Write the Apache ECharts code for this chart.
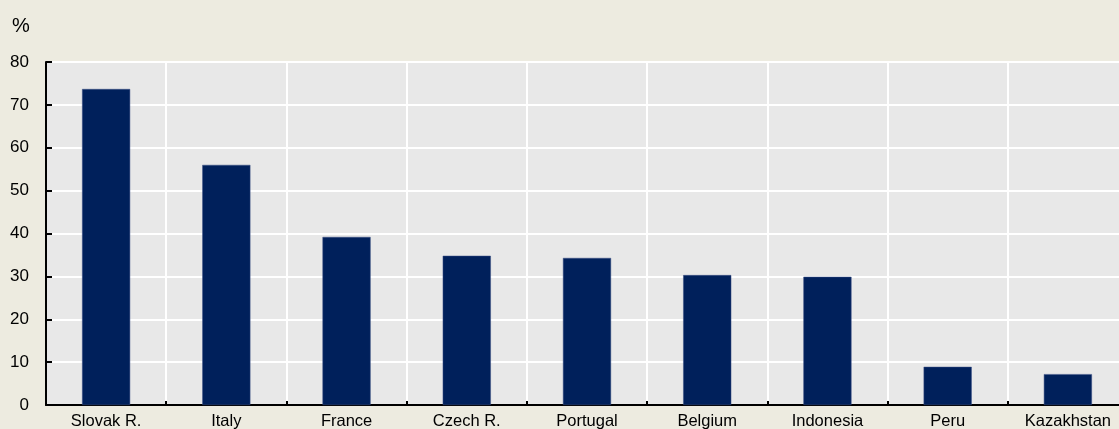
<!DOCTYPE html>
<html>
<head>
<meta charset="utf-8">
<script src="https://cdn.jsdelivr.net/npm/echarts@6/dist/echarts.min.js"></script>
<style>
  html, body { margin: 0; padding: 0; background: #EDEBE0; }
  #chart { width: 1119px; height: 429px; }
</style>
</head>
<body>
<div id="chart"></div>
<script>
// 数据
const categories = ['Slovak R.', 'Italy', 'France', 'Czech R.', 'Portugal', 'Belgium', 'Indonesia', 'Peru', 'Kazakhstan'];
const values = [73.7, 56.0, 39.2, 34.8, 34.3, 30.3, 29.9, 8.9, 7.2];
const yTicks = [0, 10, 20, 30, 40, 50, 60, 70, 80];

const chart = echarts.init(document.getElementById('chart'));

const font = 'Liberation Sans, Arial, sans-serif';

const option = {
    backgroundColor: '#EDEBE0',
    animation: false,
    textStyle: { fontFamily: font },
    graphic: [{
        type: 'text',
        left: 12,
        top: 16,
        style: { text: '%', fontSize: 20, fill: '#000', fontFamily: font }
    }],
    grid: {
        left: 46,
        top: 62,
        width: 1082,
        height: 343,
        containLabel: false,
        outerBoundsMode: 'none',
        show: true,
        backgroundColor: '#E8E8E8',
        borderWidth: 0
    },
    xAxis: {
        type: 'category',
        data: categories,
        axisLine: { lineStyle: { color: '#000', width: 2 } },
        axisTick: { show: true, inside: true, length: 4, lineStyle: { color: '#000', width: 2 } },
        axisLabel: { color: '#000', fontSize: 16.5, margin: 8 },
        splitLine: { show: true, lineStyle: { color: '#FFFFFF', width: 2 } }
    },
    yAxis: {
        type: 'value',
        min: yTicks[0],
        max: yTicks[yTicks.length - 1],
        interval: 10,
        axisLine: { show: true, lineStyle: { color: '#000', width: 2 } },
        axisTick: { show: true, inside: true, length: 6, lineStyle: { color: '#000', width: 2 } },
        axisLabel: { color: '#000', fontSize: 17, margin: 17 },
        splitLine: { show: true, lineStyle: { color: '#FFFFFF', width: 2 } }
    },
    series: [{
        type: 'bar',
        data: values,
        barWidth: '40%',
        itemStyle: { color: '#00205B', borderColor: '#3A4F85', borderWidth: 0.5 }
    }]
};

chart.setOption(option);
</script>
</body>
</html>
